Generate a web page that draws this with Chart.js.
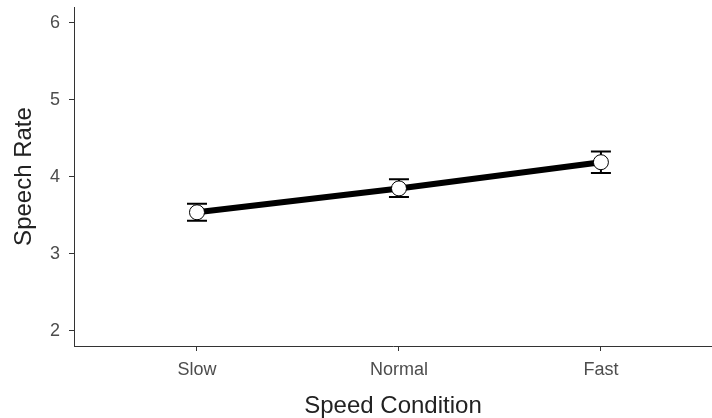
<!DOCTYPE html>
<html>
<head>
<meta charset="utf-8">
<script src="https://cdn.jsdelivr.net/npm/chart.js@4/dist/chart.umd.min.js"></script>
<style>
html,body{margin:0;padding:0;background:#fff;}
#wrap{width:712px;height:418px;position:relative;}
</style>
</head>
<body>
<div id="wrap"><canvas id="c" width="712" height="418"></canvas></div>
<script>
const categories = ["Slow", "Normal", "Fast"];
const means = [3.54, 3.85, 4.19];
const lower = [3.43, 3.74, 4.05];
const upper = [3.65, 3.97, 4.33];
const yTicks = [2, 3, 4, 5, 6];

const errorBars = {
  id: 'errorBars',
  beforeDatasetsDraw(chart) {
    const ctx = chart.ctx, xs = chart.scales.x, ys = chart.scales.y;
    ctx.save();
    ctx.strokeStyle = '#000';
    ctx.lineWidth = 2;
    for (let i = 0; i < categories.length; i++) {
      const x = xs.getPixelForValue(i);
      const yT = ys.getPixelForValue(upper[i]);
      const yB = ys.getPixelForValue(lower[i]);
      ctx.beginPath();
      ctx.moveTo(x, yT); ctx.lineTo(x, yB);
      ctx.moveTo(x - 10, yT); ctx.lineTo(x + 10, yT);
      ctx.moveTo(x - 10, yB); ctx.lineTo(x + 10, yB);
      ctx.stroke();
    }
    ctx.restore();
  }
};

function noPad(s) { s.paddingTop = 0; s.paddingBottom = 0; s.paddingLeft = 0; s.paddingRight = 0; }

new Chart(document.getElementById('c'), {
  type: 'line',
  data: {
    datasets: [{
      data: means.map((m, i) => ({x: i, y: m})),
      borderColor: '#000',
      borderWidth: 6,
      pointRadius: 7.5,
      pointBackgroundColor: '#fff',
      pointBorderColor: '#000',
      pointBorderWidth: 1,
      tension: 0
    }]
  },
  plugins: [errorBars],
  options: {
    responsive: false,
    animation: false,
    layout: {autoPadding: false, padding: {top: 7, right: 0, left: 0, bottom: 0}},
    plugins: {legend: {display: false}, tooltip: {enabled: false}},
    scales: {
      x: {
        type: 'linear',
        min: -0.609,
        max: 2.55,
        afterBuildTicks(s) { s.ticks = categories.map((c, i) => ({value: i})); },
        afterFit(s) { s.height = 72; noPad(s); },
        ticks: {
          callback: (v) => categories[v],
          color: '#4d4d4d',
          font: {family: 'Liberation Sans', size: 18},
          padding: 8,
          maxRotation: 0
        },
        grid: {drawOnChartArea: false, drawTicks: true, tickLength: 5, color: '#333', lineWidth: 1},
        border: {display: true, color: '#333', width: 1},
        title: {
          display: true, text: 'Speed Condition', color: '#222',
          font: {family: 'Liberation Sans', size: 24, lineHeight: 1.0},
          padding: {top: 0, bottom: 0}
        }
      },
      y: {
        type: 'linear',
        min: 1.805,
        max: 6.204,
        afterBuildTicks(s) { s.ticks = yTicks.map(v => ({value: v})); },
        afterFit(s) { s.width = 74; noPad(s); },
        ticks: {
          color: '#4d4d4d',
          font: {family: 'Liberation Sans', size: 18},
          padding: 9
        },
        grid: {drawOnChartArea: false, drawTicks: true, tickLength: 5, color: '#333', lineWidth: 1},
        border: {display: true, color: '#333', width: 1},
        title: {
          display: true, text: 'Speech Rate', color: '#222',
          font: {family: 'Liberation Sans', size: 24, lineHeight: 1.0},
          padding: {top: 12.5, bottom: 0}
        }
      }
    }
  }
});
</script>
</body>
</html>
